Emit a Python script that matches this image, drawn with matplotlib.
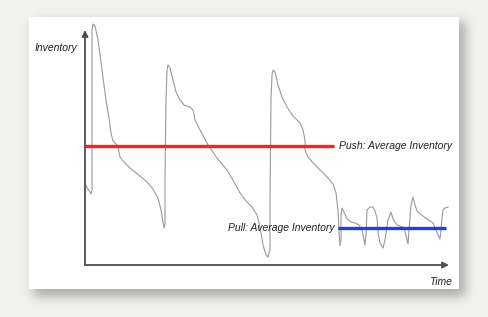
import numpy as np
import matplotlib
matplotlib.use("Agg")
import matplotlib.pyplot as plt

# ---- data (time, inventory) ----
push_t = [0, 3, 6, 7, 7, 7, 8, 10, 13, 17, 21, 24, 26, 28, 31, 33, 34, 35, 39, 45, 55, 62, 68, 73,
          76, 78, 79, 80, 80, 81, 82, 83, 85, 88, 91, 95, 99, 105, 108, 110, 115, 123, 132, 142,
          149, 155, 161, 167, 172, 175, 178, 181, 183, 185, 185, 186, 187, 188, 190, 193, 197,
          202, 208, 215, 218, 220, 220, 223, 228, 235, 242, 248, 251, 253, 254, 255]
push_inv = [81, 76, 71, 75, 205, 235, 241, 239, 225, 195, 165, 147, 132, 124, 121, 118, 113, 108,
            103, 97, 89, 83, 76, 67, 55, 43, 37, 41, 85, 165, 195, 200, 197, 185, 173, 165, 160,
            158, 155, 145, 135, 120, 107, 95, 83, 72, 64, 58, 50, 38, 20, 10, 8, 15, 65, 165, 190,
            195, 193, 180, 168, 158, 149, 142, 135, 125, 115, 108, 102, 95, 88, 81, 72, 55, 33, 20]
pull_t = [255, 256, 256, 257, 259, 262, 266, 270, 274, 277, 279, 280, 281, 282, 285, 288, 290,
          292, 293, 295, 298, 300, 303, 306, 308, 312, 318, 320, 322, 323, 324, 326, 328, 330,
          332, 335, 342, 348, 351, 353, 355, 356, 357, 358, 360, 363]
pull_inv = [20, 25, 50, 57, 53, 46, 43, 42, 40, 35, 25, 20, 30, 55, 58, 58, 54, 47, 33, 22, 17,
            25, 45, 53, 46, 40, 38, 34, 25, 21, 35, 60, 68, 60, 54, 51, 46, 42, 35, 30, 26, 35,
            47, 55, 57, 58]

push_avg = 119
pull_avg = 37
push_avg_span = (0, 249)
pull_avg_span = (253, 361)

y_label = "Inventory"
x_label = "Time"
push_label = "Push: Average Inventory"
pull_label = "Pull: Average Inventory"

# ---- figure ----
W, H = 489, 317
fig = plt.figure(figsize=(W / 100, H / 100), dpi=100)

# background with card and soft shadow
yy, xx = np.mgrid[0:H, 0:W].astype(float)
def sig(z):
    return 1.0 / (1.0 + np.exp(-z))
w = 3.2
sx0, sx1, sy0, sy1 = 33, 465, 21, 296
shadow = 0.55 * sig((xx - sx0) / w) * sig((sx1 - xx) / w) * sig((yy - sy0) / w) * sig((sy1 - yy) / w)
bg = np.array([0.949, 0.949, 0.941])
img = bg[None, None, :] * (1 - shadow[..., None]) + np.array([0.45, 0.45, 0.45])[None, None, :] * shadow[..., None]
card = (xx >= 29) & (xx <= 458) & (yy >= 17) & (yy <= 288)
img[card] = 1.0
fig.figimage(img[::-1], xo=0, yo=0, origin="lower", zorder=0)

ax = fig.add_axes([0, 0, 1, 1])
ax.set_zorder(1)
ax.patch.set_visible(False)
ax.set_axis_off()
ax.set_xlim(-85, W - 85)
ax.set_ylim(265 - H, 265)

# axes arrows
arrow_kw = dict(arrowstyle="-|>", color="#505050", lw=1.3, shrinkA=0, shrinkB=0, mutation_scale=9)
ax.annotate("", xy=(0, 235), xytext=(0, 0), arrowprops=arrow_kw)
ax.annotate("", xy=(364, 0), xytext=(0, 0), arrowprops=arrow_kw)

# inventory curve
ax.plot(push_t, push_inv, color="#9a9a9a", lw=0.8, solid_joinstyle="round")
ax.plot(pull_t, pull_inv, color="#9a9a9a", lw=0.8, solid_joinstyle="round")

# averages
ax.plot(push_avg_span, [push_avg, push_avg], color="#ff1f1f", lw=2.4, solid_capstyle="butt")
ax.plot(pull_avg_span, [pull_avg, pull_avg], color="#1f3fe8", lw=2.4, solid_capstyle="butt")

font = dict(family="Liberation Sans", style="italic", fontsize=7.5, color="#222222")
ax.text(-50, 217, y_label, ha="left", va="center", **font)
ax.text(367, -17, x_label, ha="right", va="center", **font)
ax.text(254, push_avg, push_label, ha="left", va="center", **font)
ax.text(250, pull_avg, pull_label, ha="right", va="center", **font)

fig.savefig("out.png", dpi=100)
